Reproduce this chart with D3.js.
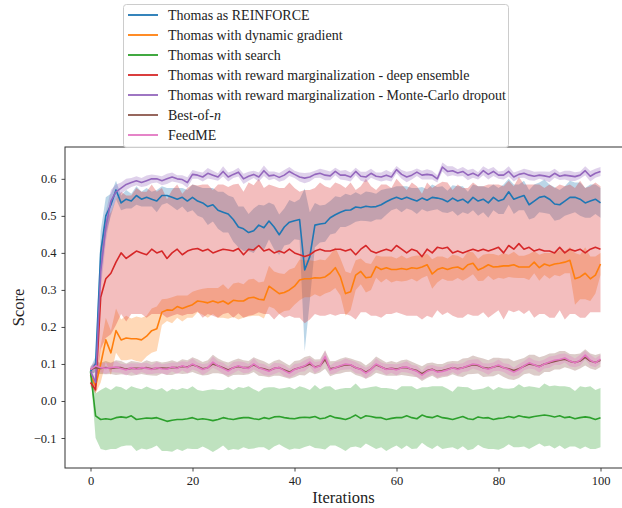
<!DOCTYPE html>
<html lang="en">
<head>
    <meta charset="UTF-8">
    <title>Scores</title>
    <style>
        body { margin: 0; background: #fff; }
        text { font-family: "Liberation Serif", "DejaVu Serif", serif; fill: #222; }
    </style>
</head>
<body>
<script src="https://d3js.org/d3.v7.min.js"></script>
<script>
    let w = 622, h = 508;

    // iterations 0..100
    let iters = d3.range(0, 101);

    let labels = ["Thomas as REINFORCE", "Thomas with dynamic gradient", "Thomas with search",
        "Thomas with reward marginalization - deep ensemble",
        "Thomas with reward marginalization - Monte-Carlo dropout", "Best-of-n", "FeedME"];
    let colors = ["#1f77b4", "#ff7f0e", "#2ca02c", "#d62728", "#9467bd", "#8c564b", "#e377c2"];

    let reinforce = [
        0.08, 0.10, 0.40, 0.50, 0.53, 0.57, 0.535, 0.545, 0.54, 0.555,
        0.545, 0.55, 0.545, 0.54, 0.555, 0.555, 0.55, 0.545, 0.55, 0.54,
        0.55, 0.54, 0.535, 0.525, 0.53, 0.515, 0.51, 0.505, 0.49, 0.47,
        0.465, 0.455, 0.46, 0.475, 0.468, 0.486, 0.47, 0.449, 0.47, 0.483,
        0.487, 0.49, 0.354, 0.39, 0.475, 0.478, 0.48, 0.495, 0.503, 0.51,
        0.515, 0.516, 0.524, 0.522, 0.526, 0.524, 0.525, 0.53, 0.538, 0.545,
        0.55, 0.545, 0.55, 0.545, 0.54, 0.548, 0.542, 0.55, 0.548, 0.545,
        0.538, 0.548, 0.54, 0.545, 0.535, 0.55, 0.54, 0.545, 0.535, 0.55,
        0.54, 0.545, 0.565, 0.545, 0.55, 0.555, 0.53, 0.54, 0.55, 0.553,
        0.545, 0.532, 0.53, 0.54, 0.55, 0.55, 0.545, 0.535, 0.54, 0.545,
        0.535];
    let reinforceSd = [
        0.01, 0.02, 0.06, 0.05, 0.03, 0.025, 0.02, 0.025, 0.02, 0.025,
        0.02, 0.025, 0.02, 0.03, 0.025, 0.02, 0.025, 0.03, 0.025, 0.03,
        0.035, 0.04, 0.04, 0.05, 0.045, 0.05, 0.055, 0.05, 0.06, 0.055,
        0.06, 0.05, 0.06, 0.055, 0.06, 0.05, 0.06, 0.055, 0.05, 0.06,
        0.05, 0.055, 0.22, 0.12, 0.06, 0.05, 0.05, 0.045, 0.05, 0.04,
        0.045, 0.04, 0.04, 0.035, 0.04, 0.04, 0.035, 0.04, 0.035, 0.03,
        0.03, 0.035, 0.03, 0.03, 0.035, 0.03, 0.03, 0.035, 0.03, 0.035,
        0.03, 0.035, 0.04, 0.035, 0.03, 0.035, 0.04, 0.035, 0.04, 0.035,
        0.035, 0.04, 0.035, 0.04, 0.035, 0.04, 0.04, 0.045, 0.04, 0.045,
        0.04, 0.045, 0.04, 0.04, 0.045, 0.04, 0.045, 0.04, 0.045, 0.04,
        0.04];

    let dynGrad = [
        0.07, 0.04, 0.10, 0.165, 0.13, 0.19, 0.165, 0.17, 0.168, 0.168,
        0.165, 0.175, 0.19, 0.195, 0.24, 0.246, 0.245, 0.255, 0.25, 0.255,
        0.26, 0.27, 0.268, 0.265, 0.27, 0.265, 0.27, 0.262, 0.272, 0.27,
        0.27, 0.278, 0.28, 0.275, 0.273, 0.31, 0.30, 0.29, 0.293, 0.30,
        0.31, 0.327, 0.33, 0.33, 0.333, 0.332, 0.335, 0.345, 0.36, 0.335,
        0.29, 0.295, 0.34, 0.35, 0.333, 0.335, 0.363, 0.355, 0.36, 0.355,
        0.355, 0.358, 0.355, 0.36, 0.358, 0.362, 0.368, 0.343, 0.355, 0.36,
        0.355, 0.36, 0.362, 0.355, 0.368, 0.372, 0.354, 0.36, 0.368, 0.362,
        0.363, 0.365, 0.365, 0.368, 0.362, 0.362, 0.362, 0.375, 0.36, 0.37,
        0.365, 0.37, 0.372, 0.375, 0.38, 0.33, 0.335, 0.345, 0.33, 0.34,
        0.37];
    let dynGradSd = [
        0.01, 0.02, 0.05, 0.06, 0.06, 0.06, 0.055, 0.06, 0.055, 0.06,
        0.06, 0.055, 0.06, 0.06, 0.035, 0.03, 0.035, 0.03, 0.035, 0.03,
        0.035, 0.03, 0.035, 0.04, 0.035, 0.04, 0.045, 0.04, 0.045, 0.05,
        0.045, 0.05, 0.05, 0.045, 0.05, 0.055, 0.05, 0.055, 0.05, 0.055,
        0.05, 0.055, 0.05, 0.05, 0.045, 0.05, 0.045, 0.05, 0.055, 0.05,
        0.06, 0.05, 0.04, 0.035, 0.04, 0.035, 0.03, 0.035, 0.03, 0.035,
        0.03, 0.035, 0.03, 0.03, 0.035, 0.03, 0.03, 0.04, 0.035, 0.03,
        0.03, 0.035, 0.03, 0.03, 0.035, 0.03, 0.03, 0.035, 0.03, 0.035,
        0.03, 0.035, 0.03, 0.035, 0.03, 0.03, 0.035, 0.03, 0.035, 0.03,
        0.035, 0.03, 0.035, 0.03, 0.035, 0.07, 0.06, 0.07, 0.06, 0.05,
        0.03];

    let search = [
        0.08, -0.04, -0.05, -0.048, -0.05, -0.045, -0.043, -0.045, -0.04, -0.05,
        -0.048, -0.046, -0.047, -0.045, -0.05, -0.055, -0.052, -0.05, -0.05, -0.048,
        -0.045, -0.05, -0.048, -0.05, -0.053, -0.05, -0.045, -0.048, -0.05, -0.047,
        -0.045, -0.045, -0.048, -0.05, -0.045, -0.048, -0.043, -0.042, -0.045, -0.047,
        -0.048, -0.045, -0.044, -0.045, -0.042, -0.048, -0.046, -0.04, -0.045, -0.047,
        -0.05, -0.045, -0.038, -0.047, -0.04, -0.042, -0.045, -0.045, -0.05, -0.047,
        -0.045, -0.045, -0.04, -0.045, -0.048, -0.038, -0.043, -0.045, -0.04, -0.045,
        -0.047, -0.05, -0.046, -0.042, -0.048, -0.05, -0.043, -0.046, -0.045, -0.05,
        -0.047, -0.046, -0.042, -0.045, -0.04, -0.043, -0.045, -0.042, -0.04, -0.038,
        -0.04, -0.043, -0.04, -0.045, -0.043, -0.048, -0.045, -0.043, -0.045, -0.05,
        -0.045];
    let searchSd = [
        0.005, 0.06, 0.08, 0.085, 0.08, 0.085, 0.08, 0.075, 0.08, 0.085,
        0.08, 0.085, 0.08, 0.075, 0.085, 0.08, 0.085, 0.08, 0.085, 0.08,
        0.085, 0.08, 0.075, 0.08, 0.085, 0.08, 0.075, 0.085, 0.08, 0.085,
        0.08, 0.085, 0.08, 0.075, 0.08, 0.085, 0.08, 0.075, 0.08, 0.085,
        0.08, 0.085, 0.08, 0.075, 0.085, 0.08, 0.085, 0.08, 0.075, 0.08,
        0.085, 0.08, 0.085, 0.08, 0.075, 0.08, 0.085, 0.08, 0.085, 0.08,
        0.075, 0.085, 0.08, 0.085, 0.08, 0.075, 0.08, 0.085, 0.08, 0.085,
        0.08, 0.075, 0.085, 0.08, 0.085, 0.08, 0.075, 0.08, 0.085, 0.08,
        0.085, 0.08, 0.075, 0.08, 0.085, 0.08, 0.085, 0.08, 0.075, 0.085,
        0.08, 0.085, 0.08, 0.085, 0.08, 0.075, 0.085, 0.08, 0.085, 0.08,
        0.08];

    let ensemble = [
        0.05, 0.03, 0.28, 0.33, 0.345, 0.375, 0.40, 0.385, 0.395, 0.405,
        0.40, 0.395, 0.41, 0.40, 0.405, 0.385, 0.40, 0.41, 0.395, 0.405,
        0.41, 0.412, 0.405, 0.41, 0.40, 0.405, 0.41, 0.408, 0.405, 0.412,
        0.395, 0.41, 0.408, 0.42, 0.405, 0.41, 0.40, 0.405, 0.40, 0.41,
        0.40, 0.395, 0.39, 0.395, 0.405, 0.41, 0.405, 0.405, 0.41, 0.41,
        0.405, 0.41, 0.395, 0.41, 0.42, 0.405, 0.40, 0.405, 0.41, 0.405,
        0.42, 0.41, 0.40, 0.41, 0.405, 0.39, 0.41, 0.40, 0.415, 0.412,
        0.415, 0.40, 0.405, 0.40, 0.405, 0.41, 0.405, 0.41, 0.405, 0.41,
        0.415, 0.40, 0.42, 0.41, 0.425, 0.41, 0.415, 0.405, 0.41, 0.405,
        0.405, 0.40, 0.415, 0.40, 0.41, 0.405, 0.41, 0.40, 0.41, 0.415,
        0.41];
    let ensembleSd = [
        0.01, 0.01, 0.14, 0.16, 0.165, 0.17, 0.165, 0.17, 0.16, 0.17,
        0.165, 0.17, 0.175, 0.165, 0.17, 0.16, 0.17, 0.175, 0.165, 0.17,
        0.175, 0.17, 0.18, 0.175, 0.17, 0.18, 0.175, 0.17, 0.18, 0.175,
        0.17, 0.18, 0.175, 0.18, 0.17, 0.175, 0.18, 0.17, 0.175, 0.18,
        0.175, 0.17, 0.18, 0.175, 0.17, 0.18, 0.175, 0.17, 0.18, 0.175,
        0.17, 0.18, 0.175, 0.17, 0.18, 0.175, 0.17, 0.18, 0.175, 0.17,
        0.18, 0.175, 0.17, 0.18, 0.175, 0.17, 0.18, 0.175, 0.17, 0.18,
        0.175, 0.17, 0.18, 0.175, 0.17, 0.18, 0.175, 0.17, 0.18, 0.175,
        0.17, 0.18, 0.175, 0.17, 0.18, 0.175, 0.17, 0.18, 0.175, 0.17,
        0.18, 0.175, 0.17, 0.18, 0.175, 0.17, 0.185, 0.175, 0.17, 0.175,
        0.17];

    let dropout = [
        0.08, 0.05, 0.35, 0.47, 0.54, 0.565, 0.575, 0.585, 0.59, 0.595,
        0.59, 0.595, 0.60, 0.60, 0.595, 0.60, 0.605, 0.60, 0.598, 0.59,
        0.612, 0.61, 0.605, 0.615, 0.61, 0.605, 0.62, 0.605, 0.612, 0.618,
        0.60, 0.607, 0.612, 0.605, 0.622, 0.608, 0.61, 0.604, 0.61, 0.62,
        0.612, 0.605, 0.602, 0.605, 0.612, 0.615, 0.61, 0.608, 0.62, 0.61,
        0.61, 0.605, 0.62, 0.607, 0.605, 0.615, 0.607, 0.605, 0.61, 0.605,
        0.625, 0.612, 0.605, 0.61, 0.618, 0.61, 0.612, 0.61, 0.60, 0.632,
        0.62, 0.622, 0.616, 0.62, 0.61, 0.615, 0.608, 0.622, 0.612, 0.62,
        0.61, 0.61, 0.62, 0.605, 0.612, 0.615, 0.61, 0.607, 0.61, 0.608,
        0.605, 0.615, 0.607, 0.61, 0.608, 0.606, 0.61, 0.622, 0.607, 0.615,
        0.62];
    let dropoutSd = [
        0.01, 0.02, 0.05, 0.04, 0.03, 0.02, 0.015, 0.015, 0.012, 0.012,
        0.012, 0.014, 0.012, 0.01, 0.012, 0.014, 0.012, 0.01, 0.012, 0.014,
        0.012, 0.01, 0.012, 0.014, 0.012, 0.01, 0.014, 0.012, 0.01, 0.012,
        0.014, 0.012, 0.01, 0.012, 0.014, 0.012, 0.01, 0.012, 0.014, 0.012,
        0.01, 0.012, 0.014, 0.012, 0.01, 0.012, 0.014, 0.012, 0.01, 0.012,
        0.014, 0.012, 0.01, 0.012, 0.014, 0.012, 0.01, 0.012, 0.014, 0.012,
        0.01, 0.012, 0.014, 0.012, 0.01, 0.012, 0.014, 0.012, 0.01, 0.012,
        0.014, 0.012, 0.01, 0.012, 0.014, 0.012, 0.01, 0.012, 0.014, 0.012,
        0.01, 0.012, 0.014, 0.012, 0.01, 0.012, 0.014, 0.012, 0.01, 0.012,
        0.014, 0.012, 0.01, 0.012, 0.014, 0.012, 0.01, 0.012, 0.014, 0.012,
        0.012];

    let bestOfN = [
        0.085, 0.09, 0.088, 0.09, 0.088, 0.09, 0.09, 0.086, 0.088, 0.088,
        0.088, 0.09, 0.087, 0.088, 0.089, 0.088, 0.09, 0.09, 0.093, 0.092,
        0.098, 0.093, 0.087, 0.09, 0.1, 0.095, 0.09, 0.084, 0.09, 0.093,
        0.09, 0.09, 0.098, 0.09, 0.087, 0.082, 0.088, 0.09, 0.084, 0.078,
        0.086, 0.09, 0.094, 0.1, 0.092, 0.095, 0.112, 0.087, 0.09, 0.094,
        0.098, 0.097, 0.09, 0.086, 0.078, 0.086, 0.098, 0.092, 0.086, 0.088,
        0.086, 0.09, 0.09, 0.086, 0.082, 0.074, 0.082, 0.086, 0.08, 0.082,
        0.086, 0.09, 0.087, 0.09, 0.094, 0.098, 0.096, 0.09, 0.088, 0.092,
        0.095, 0.09, 0.087, 0.082, 0.087, 0.094, 0.1, 0.097, 0.093, 0.1,
        0.103, 0.107, 0.11, 0.113, 0.107, 0.104, 0.108, 0.118, 0.108, 0.104,
        0.11];
    let bestOfNSd = [
        0.008, 0.015, 0.015, 0.018, 0.015, 0.02, 0.018, 0.015, 0.02, 0.018,
        0.015, 0.02, 0.018, 0.02, 0.015, 0.018, 0.02, 0.015, 0.02, 0.018,
        0.02, 0.02, 0.018, 0.02, 0.025, 0.02, 0.018, 0.02, 0.02, 0.022,
        0.02, 0.018, 0.02, 0.022, 0.02, 0.018, 0.02, 0.022, 0.02, 0.018,
        0.022, 0.02, 0.025, 0.022, 0.02, 0.018, 0.025, 0.02, 0.018, 0.02,
        0.02, 0.018, 0.02, 0.02, 0.018, 0.02, 0.022, 0.02, 0.018, 0.02,
        0.018, 0.02, 0.022, 0.02, 0.018, 0.02, 0.02, 0.018, 0.02, 0.018,
        0.02, 0.018, 0.02, 0.025, 0.022, 0.025, 0.022, 0.025, 0.022, 0.025,
        0.022, 0.025, 0.028, 0.025, 0.025, 0.022, 0.025, 0.028, 0.025, 0.022,
        0.025, 0.022, 0.025, 0.022, 0.02, 0.022, 0.02, 0.022, 0.02, 0.02,
        0.018];

    let feedme = [
        0.085, 0.095, 0.09, 0.088, 0.09, 0.092, 0.088, 0.084, 0.09, 0.086,
        0.09, 0.088, 0.085, 0.09, 0.087, 0.086, 0.092, 0.088, 0.095, 0.09,
        0.10, 0.092, 0.085, 0.09, 0.105, 0.095, 0.088, 0.081, 0.09, 0.095,
        0.09, 0.088, 0.10, 0.09, 0.085, 0.08, 0.088, 0.09, 0.082, 0.075,
        0.085, 0.09, 0.095, 0.105, 0.09, 0.095, 0.12, 0.084, 0.09, 0.095,
        0.10, 0.098, 0.09, 0.085, 0.075, 0.085, 0.10, 0.092, 0.085, 0.088,
        0.084, 0.09, 0.092, 0.085, 0.08, 0.07, 0.08, 0.085, 0.078, 0.08,
        0.084, 0.09, 0.085, 0.09, 0.095, 0.10, 0.098, 0.09, 0.086, 0.092,
        0.097, 0.09, 0.085, 0.078, 0.085, 0.095, 0.103, 0.098, 0.092, 0.10,
        0.105, 0.11, 0.112, 0.116, 0.108, 0.103, 0.11, 0.124, 0.11, 0.103,
        0.113];
    let feedmeSd = [
        0.008, 0.012, 0.012, 0.015, 0.012, 0.015, 0.012, 0.015, 0.012, 0.015,
        0.012, 0.015, 0.012, 0.015, 0.012, 0.015, 0.012, 0.015, 0.012, 0.015,
        0.015, 0.012, 0.015, 0.012, 0.015, 0.012, 0.015, 0.012, 0.015, 0.012,
        0.015, 0.012, 0.015, 0.012, 0.015, 0.012, 0.015, 0.012, 0.015, 0.012,
        0.015, 0.012, 0.015, 0.012, 0.015, 0.012, 0.015, 0.012, 0.015, 0.012,
        0.015, 0.012, 0.015, 0.012, 0.015, 0.012, 0.015, 0.012, 0.015, 0.012,
        0.015, 0.012, 0.015, 0.012, 0.015, 0.012, 0.015, 0.012, 0.015, 0.012,
        0.015, 0.012, 0.015, 0.012, 0.015, 0.012, 0.015, 0.012, 0.015, 0.012,
        0.015, 0.012, 0.015, 0.012, 0.015, 0.012, 0.015, 0.012, 0.015, 0.012,
        0.015, 0.012, 0.015, 0.012, 0.015, 0.012, 0.015, 0.012, 0.015, 0.012,
        0.012];

    let xTicks = [0, 20, 40, 60, 80, 100];
    let yTicks = [-0.1, 0.0, 0.1, 0.2, 0.3, 0.4, 0.5, 0.6];

    let means = [reinforce, dynGrad, search, ensemble, dropout, bestOfN, feedme];
    let sds = [reinforceSd, dynGradSd, searchSd, ensembleSd, dropoutSd, bestOfNSd, feedmeSd];

    let series = labels.map(function (l, k) {
        return {
            label: l, color: colors[k],
            pts: iters.map(function (it, i) {
                return {x: it, y: means[k][i], lo: means[k][i] - sds[k][i], hi: means[k][i] + sds[k][i]};
            })
        };
    });

    let inner = {left: 65, right: 626, top: 147, bottom: 468};

    let x = d3.scaleLinear().domain([-5, 105]).range([inner.left, inner.right]);
    let y = d3.scaleLinear().domain([-0.181, 0.686]).range([inner.bottom, inner.top]);

    let svg = d3.select("body")
        .append("svg")
        .attr("width", w)
        .attr("height", h);

    svg.append("defs").append("clipPath").attr("id", "clip")
        .append("rect")
        .attr("x", inner.left).attr("y", inner.top)
        .attr("width", inner.right - inner.left).attr("height", inner.bottom - inner.top);

    let plot = svg.append("g").attr("clip-path", "url(#clip)");

    let area = d3.area()
        .x(d => x(d.x))
        .y0(d => y(d.lo))
        .y1(d => y(d.hi));

    let line = d3.line()
        .x(d => x(d.x))
        .y(d => y(d.y));

    // bands first, then lines on top
    plot.selectAll("path.band")
        .data(series)
        .enter()
        .append("path")
        .attr("class", "band")
        .attr("d", d => area(d.pts))
        .attr("fill", d => d.color)
        .attr("fill-opacity", 0.3)
        .attr("stroke", "none");

    plot.selectAll("path.mean")
        .data(series)
        .enter()
        .append("path")
        .attr("class", "mean")
        .attr("d", d => line(d.pts))
        .attr("fill", "none")
        .attr("stroke", d => d.color)
        .attr("stroke-width", 1.6)
        .attr("stroke-linejoin", "round");

    // axes
    let fmtY = function (v) {
        let s = d3.format(".1f")(Math.abs(v));
        return v < -1e-9 ? "\u2212" + s : s;
    };

    let gx = svg.append("g")
        .attr("transform", "translate(0," + inner.bottom + ")")
        .call(d3.axisBottom(x).tickValues(xTicks).tickSize(3.5).tickPadding(5).tickFormat(d3.format("d")));
    let gy = svg.append("g")
        .attr("transform", "translate(" + inner.left + ",0)")
        .call(d3.axisLeft(y).tickValues(yTicks).tickSize(3.5).tickPadding(5).tickFormat(fmtY));

    [gx, gy].forEach(function (g) {
        g.select(".domain").remove();
        g.selectAll("line").attr("stroke", "#333").attr("stroke-width", 0.9);
        g.selectAll("text")
            .attr("fill", "#222")
            .style("font-family", "'Liberation Serif', serif")
            .style("font-size", "12.5px");
    });

    // frame
    svg.append("rect")
        .attr("x", inner.left).attr("y", inner.top)
        .attr("width", inner.right - inner.left).attr("height", inner.bottom - inner.top)
        .attr("fill", "none")
        .attr("stroke", "#333")
        .attr("stroke-width", 1);

    svg.append("text")
        .attr("x", (inner.left + inner.right) / 2 - 2)
        .attr("y", 503)
        .attr("text-anchor", "middle")
        .style("font-size", "16.5px")
        .text("Iterations");

    svg.append("text")
        .attr("transform", "translate(24," + ((inner.top + inner.bottom) / 2) + ") rotate(-90)")
        .attr("text-anchor", "middle")
        .style("font-size", "16.5px")
        .text("Score");

    // legend
    let leg = svg.append("g");
    leg.append("rect")
        .attr("x", 123.5).attr("y", 4.5)
        .attr("width", 385).attr("height", 143)
        .attr("rx", 3)
        .attr("fill", "#fff").attr("fill-opacity", 0.85)
        .attr("stroke", "#ccc").attr("stroke-width", 1);

    let items = leg.selectAll("g.item")
        .data(series)
        .enter()
        .append("g")
        .attr("class", "item")
        .attr("transform", (d, i) => "translate(0," + (15 + i * 20) + ")");

    items.append("line")
        .attr("x1", 128).attr("x2", 158)
        .attr("y1", 0).attr("y2", 0)
        .attr("stroke", d => d.color)
        .attr("stroke-width", 1.8);

    items.append("text")
        .attr("x", 168)
        .attr("y", 5)
        .style("font-size", "14px")
        .each(function (d) {
            let t = d3.select(this);
            if (d.label === "Best-of-n") {
                t.append("tspan").text("Best-of-");
                t.append("tspan").style("font-style", "italic").text("n");
            } else {
                t.text(d.label);
            }
        });
</script>
</body>
</html>
